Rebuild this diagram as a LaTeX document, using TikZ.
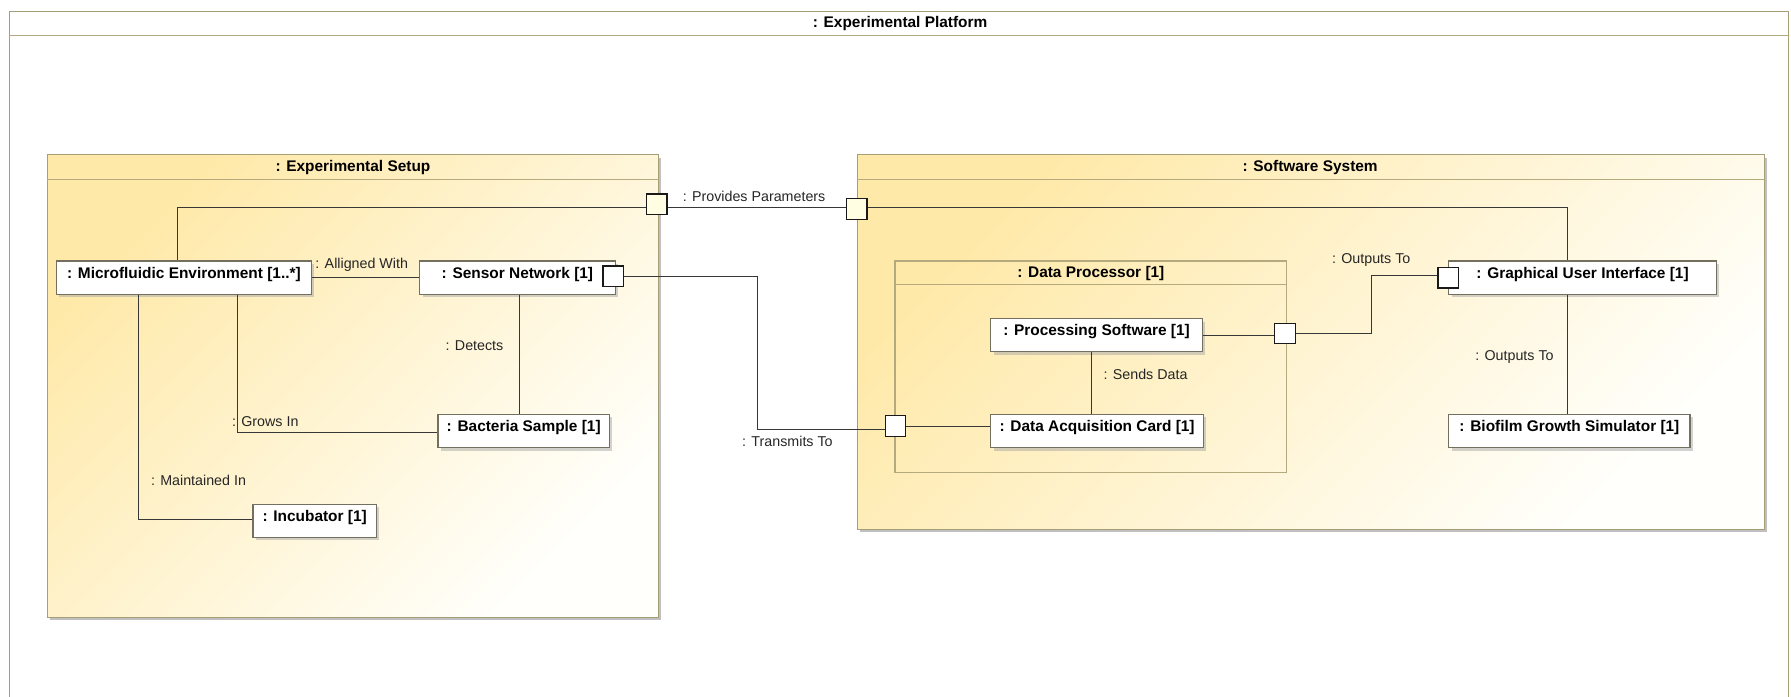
\documentclass[tikz,border=0pt]{standalone}
\usepackage{fontspec}
\setmainfont{Liberation Sans}
\usetikzlibrary{shadows,calc}

\definecolor{frameline}{RGB}{165,158,118}
\definecolor{hdrline}{RGB}{180,170,125}
\definecolor{partline}{RGB}{115,112,95}
\definecolor{wire}{RGB}{55,55,55}
\definecolor{goldA}{RGB}{255,233,168}
\definecolor{goldB}{RGB}{255,255,252}
\definecolor{portfill}{RGB}{255,253,226}

\tikzset{
  x=1pt, y=-1pt,
  container/.style={draw=frameline, line width=1pt,
    top color=goldA, bottom color=goldB, shading angle=45,
    drop shadow={shadow xshift=2.5pt, shadow yshift=-2.5pt, fill=black!45, opacity=0.55},
    inner sep=0pt, anchor=north west},
  innerbox/.style={draw=hdrline, line width=1pt, inner sep=0pt, anchor=north west},
  hdr/.style={draw=hdrline, line width=1pt},
  part/.style={draw=partline, line width=1pt, fill=white,
    drop shadow={shadow xshift=2.5pt, shadow yshift=-2.5pt, fill=black!35, opacity=0.5},
    inner xsep=0pt, inner ysep=0pt, text height=15pt, text depth=14pt,
    minimum height=29pt, anchor=north west,
    font=\fontsize{13.5}{16}\selectfont\bfseries},
  port/.style={draw=black!90, line width=1.2pt, fill=white, inner sep=0pt,
    minimum size=18pt},
  bport/.style={port, fill=portfill},
  conn/.style={draw=wire, line width=0.9pt},
  title/.style={inner sep=0pt, anchor=base, font=\fontsize{13.5}{16}\selectfont\bfseries},
  lab/.style={inner sep=0pt, anchor=base west, text=black!85,
    font=\fontsize{12.5}{15}\selectfont},
}

\begin{document}
\begin{tikzpicture}
\useasboundingbox (0,0) rectangle (1568,610);

% outer frame, open at the bottom
\draw[draw=frameline, line width=1pt] (8,630) -- (8,10) -- (1566,10) -- (1566,630);
\draw[hdr] (8,31) -- (1566,31);
\node[title] (plat) at (788,24) {: Experimental Platform};

% ---- Experimental Setup ----
\node[container, minimum width=535pt, minimum height=405pt] (es) at (41,135) {};
\draw[hdr] ([yshift=-22pt]es.north west) -- ([yshift=-22pt]es.north east);
\node[title] (es-t) at (309,150.5) {: Experimental Setup};

% ---- Software System ----
\node[container, minimum width=794pt, minimum height=328pt] (ss) at (750,135) {};
\draw[hdr] ([yshift=-22pt]ss.north west) -- ([yshift=-22pt]ss.north east);
\node[title] (ss-t) at (1147,150.5) {: Software System};

% ---- Data Processor ----
\node[innerbox, minimum width=343pt, minimum height=185pt] (dp) at (783,228) {};
\draw[hdr] ([yshift=-21pt]dp.north west) -- ([yshift=-21pt]dp.north east);
\node[title] (dp-t) at (955,243) {: Data Processor [1]};

% ---- parts ----
\node[part, minimum width=223pt] (mf)  at (49,228)   {: Microfluidic Environment [1..*]};
\node[part, minimum width=171pt] (sn)  at (367,228)  {: Sensor Network [1]};
\node[part, minimum width=150pt] (bs)  at (383,362.5){: Bacteria Sample [1]};
\node[part, minimum width=108pt] (inc) at (221,441)  {: Incubator [1]};
\node[part, minimum width=185pt] (ps)  at (867,278.5){: Processing Software [1]};
\node[part, minimum width=186pt] (daq) at (867,362.5){: Data Acquisition Card [1]};
\node[part, minimum width=234pt] (gui) at (1268,228) {: Graphical User Interface [1]};
\node[part, minimum width=211pt] (bgs) at (1268,362.5){: Biofilm Growth Simulator [1]};

% ---- ports ----
\node[bport] (pes)  at (575,179) {};
\node[bport] (pss)  at (750,183) {};
\node[port]  (psn)  at (537,242) {};
\node[port]  (pdl)  at (784,373) {};
\node[port]  (pdr)  at (1125,292) {};
\node[port]  (pgui) at (1268,243) {};

% ---- routing points ----
\coordinate (r1) at (155,182);
\coordinate (r2) at (1372,182);
\coordinate (r3) at (455,0);
\coordinate (r4) at (208,379);
\coordinate (r5) at (121,455);
\coordinate (r6) at (663,376);
\coordinate (r7) at (956,0);
\coordinate (r8) at (1201,241);

% ---- connectors ----
\draw[conn] (mf.north -| r1) -- (r1) -- (pes.west |- r1);
\draw[conn] (pes.east |- r1) -- (pss.west |- r1);
\draw[conn] (pss.east |- r1) -- (r2) -- (gui.north -| r2);
\draw[conn] (mf.east) -- (sn.west);
\draw[conn] (sn.south -| r3) -- (bs.north -| r3);
\draw[conn] (mf.south -| r4) -- (r4) -- (bs.west |- r4);
\draw[conn] (mf.south -| r5) -- (r5) -- (inc.west |- r5);
\draw[conn] (psn.east) -| (r6) -- (pdl.west |- r6);
\draw[conn] (pdl.east) -- (pdl.east -| daq.west);
\draw[conn] (ps.south -| r7) -- (daq.north -| r7);
\draw[conn] (ps.east) -- (ps.east -| pdr.west);
\draw[conn] (pdr.east) -| (r8) -- (pgui.west |- r8);
\draw[conn] (gui.south -| r2) -- (bgs.north -| r2);

% ---- connector labels ----
\node[lab] (l1)  at (597.6,176.5) {: Provides Parameters};
\node[lab] (l2)  at (276,235)     {: Alligned With};
\node[lab] (l3)  at (390,307)     {: Detects};
\node[lab] (l4)  at (203,373.5)   {: Grows In};
\node[lab] (l5)  at (132,425)     {: Maintained In};
\node[lab] (l6)  at (649.6,391)   {: Transmits To};
\node[lab] (l7)  at (966,332)     {: Sends Data};
\node[lab] (l8)  at (1166,231)    {: Outputs To};
\node[lab] (l9)  at (1291.4,315.5){: Outputs To};
\end{tikzpicture}
\end{document}
